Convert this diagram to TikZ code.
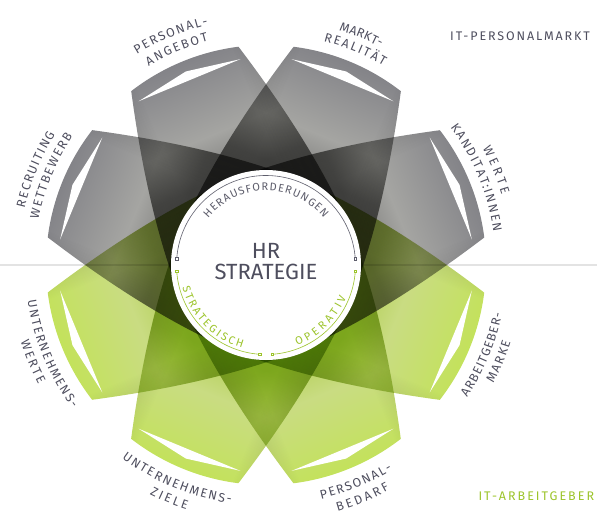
\documentclass[tikz,border=0pt]{standalone}
\usepackage{fontspec}
\setmainfont{Fira Sans}
\usetikzlibrary{decorations.text}

\definecolor{petalgrayin}{HTML}{7E7E7C}
\definecolor{petalgraymid}{HTML}{A5A5A2}
\definecolor{petalgrayout}{HTML}{828287}
\definecolor{petalgreenin}{HTML}{B2CE56}
\definecolor{petalgreenmid}{HTML}{C9DC82}
\definecolor{petalgreenout}{HTML}{C3E25A}
\definecolor{petaledge}{HTML}{DCDCDC}
\definecolor{labelgray}{HTML}{4E4E5E}
\definecolor{ringgray}{HTML}{5E5E6C}
\definecolor{ringgreen}{HTML}{9CC42A}
\definecolor{axisgray}{HTML}{B0B0B0}

\pgfdeclarehorizontalshading{graypetal}{100bp}{color(0bp)=(petalgrayin); color(52bp)=(petalgrayin); color(60bp)=(petalgraymid); color(75bp)=(petalgrayout); color(100bp)=(petalgrayout)}
\pgfdeclarehorizontalshading{greenpetal}{100bp}{color(0bp)=(petalgreenin); color(52bp)=(petalgreenin); color(60bp)=(petalgreenmid); color(75bp)=(petalgreenout); color(100bp)=(petalgreenout)}
% a little darker along the long sides
\pgfdeclareverticalshading{petalsides}{100bp}{color(0bp)=(petaledge); color(25bp)=(petaledge); color(36bp)=(white); color(64bp)=(white); color(75bp)=(petaledge); color(100bp)=(petaledge)}

% one petal, pointing along the x axis
\newcommand{\petalpath}{(-50,0) -- (20,-91) .. controls (84.9,-87.6) and (149.3,-74.6) .. (212.2,-58.1) arc[start angle=-15.3, end angle=15.3, radius=220] .. controls (149.3,74.6) and (84.9,87.6) .. (20,91) -- cycle}

\newcommand{\labelfont}{\fontsize{12.5}{15}\selectfont}
\newcommand{\ringfont}{\fontsize{11}{13}\selectfont}

% text set along an arc round the centre
\newcommand{\arctext}[6]{%
  \path[decorate, decoration={text along path, text={|#5|#1}, text align={fit to path}, text color=#6}]
    (#3:#2) arc[start angle=#3, end angle=#4, radius=#2];}

\begin{document}
\begin{tikzpicture}[x=1pt, y=1pt,
    hub/.style={circle, fill=white, minimum size=190pt, inner sep=0pt},
    hubtitle/.style={font=\fontsize{22}{26}\selectfont, text=labelgray, inner sep=0pt, anchor=base},
    ringend/.style={rectangle, draw=#1, fill=white, line width=0.5pt, minimum size=2.6pt, inner sep=0pt},
    corner/.style={font=\fontsize{12.5}{15}\selectfont\addfontfeatures{LetterSpace=#1}, inner sep=0pt, anchor=base west},
    ring/.style={line width=0.6pt}
]
\useasboundingbox (-266,-266) rectangle (331,265);

% petals, darker where they overlap
\begin{scope}[blend group=multiply]
  \path (-266,-266) rectangle (331,265);
  \foreach \ang/\shd in {22.5/graypetal, 67.5/graypetal, 112.5/graypetal, 157.5/graypetal,
                         202.5/greenpetal, 247.5/greenpetal, 292.5/greenpetal, 337.5/greenpetal}{
    \begin{scope}[transform canvas={rotate=\ang}]
      \shade[shading=\shd] \petalpath;
      \shade[shading=petalsides] \petalpath;
    \end{scope}
  }
  \coordinate (axisW) at (-266,0);
  \coordinate (axisE) at (331,0);
  \draw[axisgray, line width=0.7pt] (axisW) -- (axisE);
\end{scope}

% white highlights
\foreach \ang in {22.5,67.5,...,337.5}{
  \fill[white, transform canvas={rotate=\ang}] (200,-55) -- (209.5,0) -- (200,55) -- cycle;
}

% centre
\node[hub] (hub) at (0,0) {};
\draw[ring, ringgray] (176:89.5) arc[start angle=176, end angle=4, radius=89.5];
\draw[ring, ringgreen] (184:89.5) arc[start angle=184, end angle=266, radius=89.5];
\draw[ring, ringgreen] (274:89.5) arc[start angle=274, end angle=356, radius=89.5];
\node[ringend=ringgray] (grayL) at (176:89.5) {};
\node[ringend=ringgray] (grayR) at (4:89.5) {};
\node[ringend=ringgreen] (stratA) at (184:89.5) {};
\node[ringend=ringgreen] (stratB) at (266:89.5) {};
\node[ringend=ringgreen] (operA) at (274:89.5) {};
\node[ringend=ringgreen] (operB) at (356:89.5) {};

\node[hubtitle] (hrtop) at (0,7) {HR};
\node[hubtitle] (hrbottom) at (0,-14) {STRATEGIE};

\arctext{HERAUSFORDERUNGEN}{74.3}{141}{39}{\ringfont}{ringgray}
\arctext{STRATEGISCH}{86.5}{195}{254}{\ringfont}{ringgreen}
\arctext{OPERATIV}{86.5}{291}{338}{\ringfont}{ringgreen}

% labels round the petals
\arctext{PERSONAL-}{247}{121.5}{103.5}{\labelfont}{labelgray}
\arctext{ANGEBOT}{231}{120.55}{104.45}{\labelfont}{labelgray}
\arctext{MARKT-}{246}{72.75}{62.25}{\labelfont}{labelgray}
\arctext{REALITÄT}{231}{75.55}{59.45}{\labelfont}{labelgray}
\arctext{WERTE}{246}{28.35}{16.65}{\labelfont}{labelgray}
\arctext{KANDITAT:INNEN}{230}{36.7}{8.3}{\labelfont}{labelgray}
\arctext{RECRUITING}{248}{166.8}{148.2}{\labelfont}{labelgray}
\arctext{WETTBEWERB}{232}{168.65}{146.35}{\labelfont}{labelgray}

\arctext{UNTERNEHMENS-}{241}{188.5}{216.5}{\labelfont}{labelgray}
\arctext{WERTE}{257}{197.3}{207.7}{\labelfont}{labelgray}
\arctext{UNTERNEHMENS-}{241}{233.3}{261.7}{\labelfont}{labelgray}
\arctext{ZIELE}{257}{243.05}{251.95}{\labelfont}{labelgray}
\arctext{PERSONAL-}{240.5}{283.25}{301.75}{\labelfont}{labelgray}
\arctext{BEDARF}{256.5}{286.2}{298.8}{\labelfont}{labelgray}
\arctext{ARBEITGEBER-}{241}{326.55}{348.45}{\labelfont}{labelgray}
\arctext{MARKE}{256.5}{332.4}{342.6}{\labelfont}{labelgray}

% the two sides
\node[corner=15, text=labelgray] (market) at (184,224.3) {IT-PERSONALMARKT};
\node[corner=16, text=ringgreen] (employer) at (212.3,-235) {IT-ARBEITGEBER};
\end{tikzpicture}
\end{document}
